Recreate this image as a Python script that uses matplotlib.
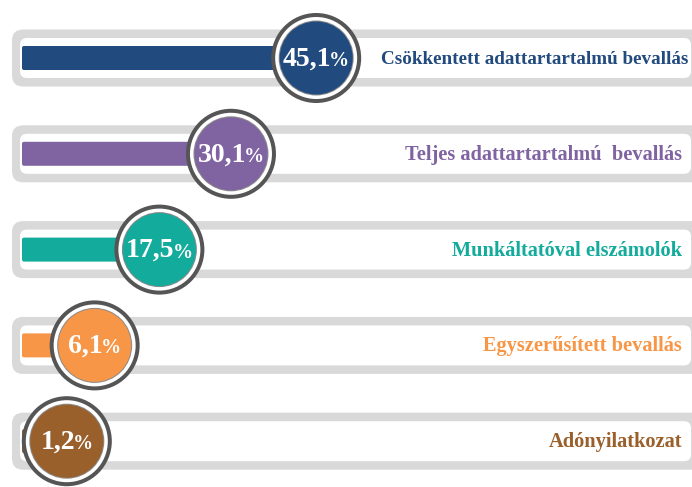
import matplotlib.pyplot as plt
from matplotlib.patches import FancyBboxPatch, Circle

# Data
categories = ['Csökkentett adattartartalmú bevallás',
              'Teljes adattartartalmú  bevallás',
              'Munkáltatóval elszámolók',
              'Egyszerűsített bevallás',
              'Adónyilatkozat']
values = [45.1, 30.1, 17.5, 6.1, 1.2]
value_labels = ['45,1', '30,1', '17,5', '6,1', '1,2']
colors = ['#214a7e', '#8064a2', '#13ab9b', '#f79646', '#9a602c']

# Layout (pixel units, figure is 692x487)
W, H = 692, 487
row_y0, row_step = 58, 95.8
x_center0, px_per_pct = 60, 5.68   # circle centre = x_center0 + value * px_per_pct
bar_x0 = 22
track_x0 = 12

plt.rcParams['font.family'] = ['Liberation Serif', 'DejaVu Serif']

fig = plt.figure(figsize=(W / 100, H / 100), dpi=100)
ax = fig.add_axes([0, 0, 1, 1])
ax.set_xlim(0, W)
ax.set_ylim(H, 0)
ax.axis('off')

renderer = fig.canvas.get_renderer()

for i, (cat, val, lab, col) in enumerate(zip(categories, values, value_labels, colors)):
    y = row_y0 + i * row_step
    cx = x_center0 + val * px_per_pct

    # grey track with white inner part
    ax.add_patch(FancyBboxPatch((track_x0, y - 28.5), W + 20, 57,
                                boxstyle='round,pad=0,rounding_size=11',
                                fc='#d9d9d9', ec='none', zorder=1))
    ax.add_patch(FancyBboxPatch((track_x0 + 8, y - 20), W - track_x0 - 9, 40,
                                boxstyle='round,pad=0,rounding_size=7',
                                fc='white', ec='none', zorder=2))

    # coloured bar up to circle centre
    ax.add_patch(FancyBboxPatch((bar_x0, y - 12), cx - bar_x0, 24,
                                boxstyle='round,pad=0,rounding_size=2',
                                fc=col, ec='none', zorder=3))

    # badge circle: dark ring, white ring, thin grey line, fill
    ax.add_patch(Circle((cx, y), 45, fc='#555555', ec='none', zorder=4))
    ax.add_patch(Circle((cx, y), 41, fc='white', ec='none', zorder=5))
    ax.add_patch(Circle((cx, y), 37.5, fc='#8a8a8a', ec='none', zorder=6))
    ax.add_patch(Circle((cx, y), 36.5, fc=col, ec='none', zorder=7))

    # value label: number + smaller %
    t1 = ax.text(cx, y + 1, lab, ha='right', va='center', color='white',
                 fontsize=20, fontweight='bold', zorder=8)
    t2 = ax.text(cx, y + 3, '%', ha='left', va='center', color='white',
                 fontsize=14.5, fontweight='bold', zorder=8)
    w1 = t1.get_window_extent(renderer).width
    w2 = t2.get_window_extent(renderer).width
    left = cx - (w1 + w2 - 2) / 2
    t1.set_x(left + w1)
    t2.set_x(left + w1 - 2)

    # category label
    ax.text(688 if i == 0 else 682, y + 1, cat, ha='right', va='center',
            color=col, fontsize=13.75 if i == 0 else 14.7, fontweight='bold',
            zorder=8)

fig.savefig('out.png', dpi=100)
